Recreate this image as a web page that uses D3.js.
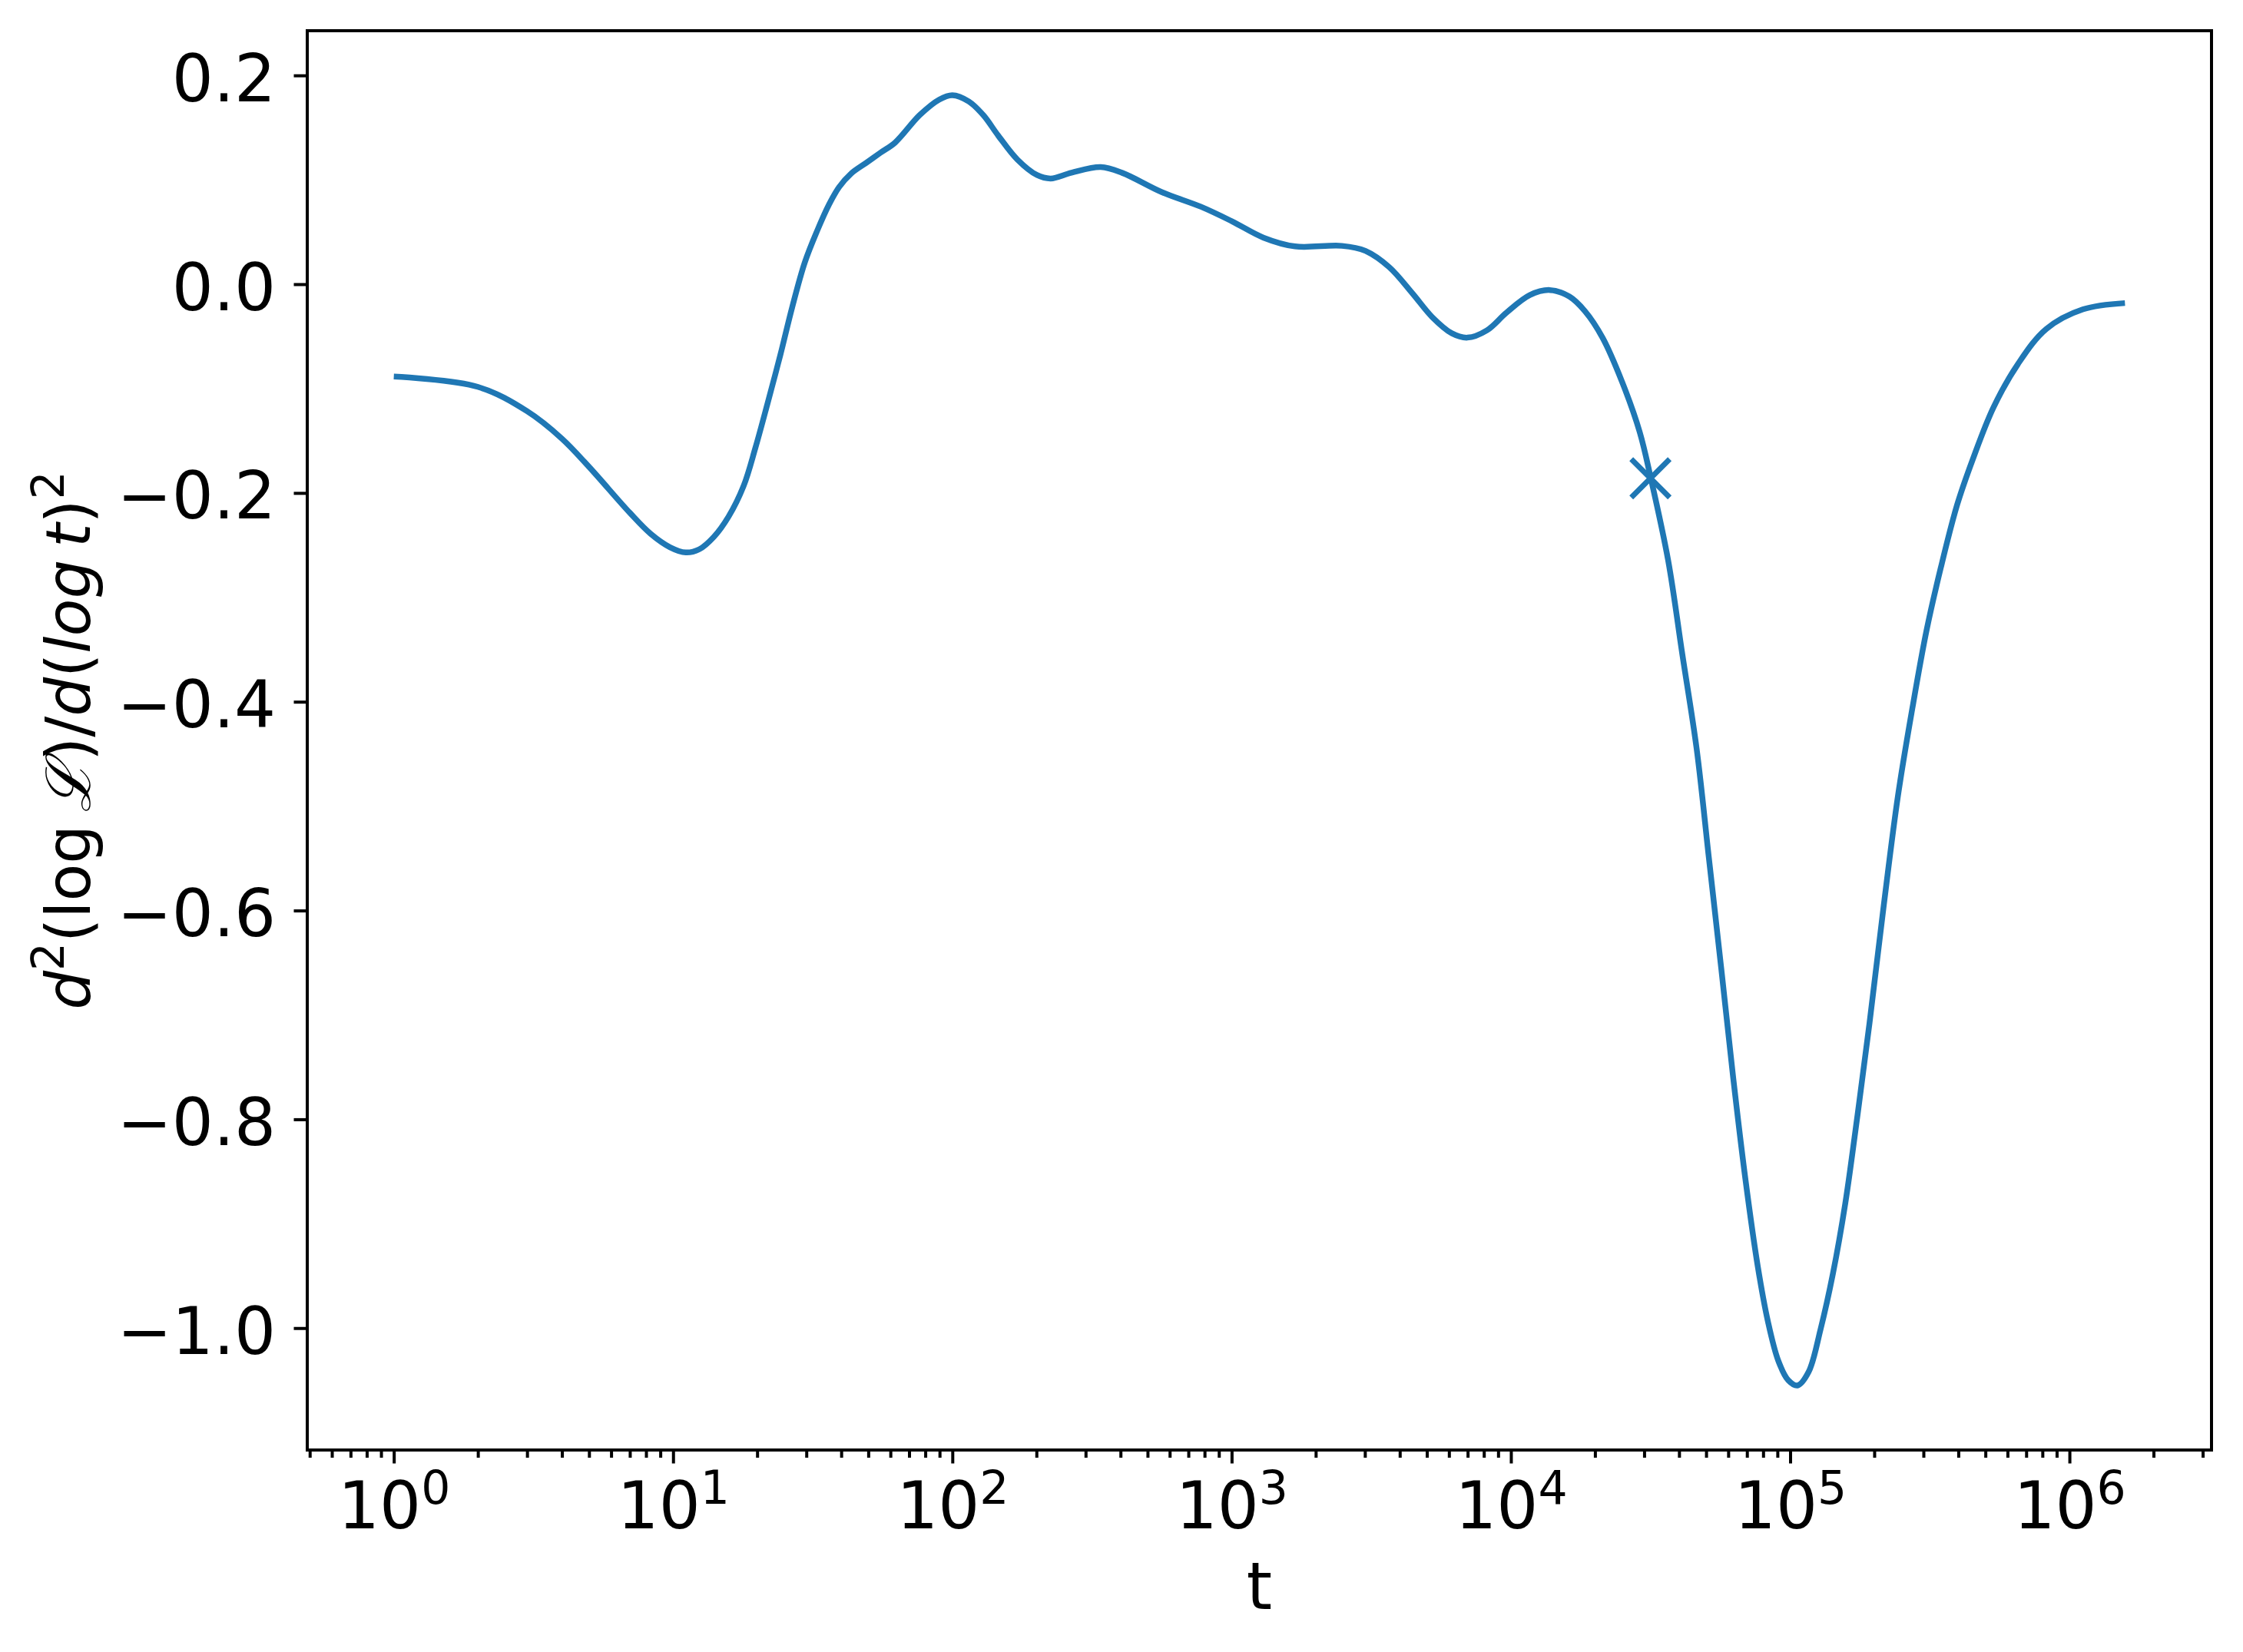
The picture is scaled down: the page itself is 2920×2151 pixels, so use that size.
<!DOCTYPE html>
<html>
<head>
<meta charset="utf-8">
<script src="https://cdn.jsdelivr.net/npm/d3@7"></script>
<style>
  body { margin: 0; background: #fff; }
  svg { display: block; }
  text { font-family: "DejaVu Sans", sans-serif; fill: #000; }
</style>
</head>
<body>
<svg id="chart"></svg>
<script>
// t values (log spaced after the first integers) and the curve values
const tValues = [1, 2, 3, 4, 5, 7, 8.3, 9.75, 11.1, 12.4, 14, 15.8, 17.9, 19.7, 21.8, 24.2, 26.7,
    29.6, 32.7, 36.2, 39.3, 43.4, 49, 55.2, 62.4, 76.4, 89.7, 100, 114.5, 129, 146, 171, 201,
    225, 267, 340, 406, 561, 776, 1005, 1300, 1687, 2483, 3013, 3664, 4446, 5224, 6138, 6982,
    8204, 9638, 11695, 13772, 16180, 18408, 21281, 25000, 28900, 31700, 36560, 41100, 46240,
    51170, 56620, 62520, 69180, 76560, 83180, 90570, 98400, 106200, 116400, 128500, 142200,
    157400, 173800, 192300, 216300, 243200, 273500, 307600, 345900, 395400, 451900, 534600,
    653100, 826000, 1117000, 1580000];
const curveValues = [-0.0885, -0.0984, -0.1217, -0.148, -0.175, -0.219, -0.239, -0.252, -0.257,
    -0.254, -0.242, -0.2226, -0.193, -0.157, -0.114, -0.068, -0.022, 0.0206, 0.0503, 0.0765,
    0.093, 0.106, 0.116, 0.1258, 0.1357, 0.162, 0.1768, 0.181, 0.175, 0.162, 0.1423, 0.1193,
    0.1045, 0.1012, 0.1068, 0.1122, 0.1066, 0.0883, 0.0742, 0.0601, 0.0446, 0.0362, 0.0367,
    0.0319, 0.0164, -0.009, -0.0315, -0.047, -0.0512, -0.0442, -0.0273, -0.0104, -0.0056,
    -0.0118, -0.0258, -0.0512, -0.0935, -0.1414, -0.186, -0.2646, -0.3547, -0.445, -0.55,
    -0.655, -0.7605, -0.858, -0.941, -0.9934, -1.031, -1.05, -1.055, -1.042, -1.001, -0.948,
    -0.881, -0.798, -0.708, -0.595, -0.49, -0.407, -0.332, -0.272, -0.212, -0.1669, -0.118,
    -0.0767, -0.0429, -0.0241, -0.0181];
const markerT = [31600];
const markerValues = [-0.186];
const yTicks = [0.2, 0.0, -0.2, -0.4, -0.6, -0.8, -1.0];
const xTickExponents = [0, 1, 2, 3, 4, 5, 6];
const xLabel = 't';

const width = 2920, height = 2151;
const margin = {left: 400, right: 41, top: 40, bottom: 263};
const blue = '#1f77b4';

const svg = d3.select('#chart')
    .attr('width', width)
    .attr('height', height);

svg.append('rect')
    .attr('width', width)
    .attr('height', height)
    .attr('fill', '#fff');

// matplotlib-like 5% margins (in log space for t)
const logExt = d3.extent(tValues).map(Math.log10);
const padX = (logExt[1] - logExt[0]) * 0.05;
const vExt = d3.extent(curveValues);
const padY = (vExt[1] - vExt[0]) * 0.05;

const x = d3.scaleLog()
    .domain([Math.pow(10, logExt[0] - padX), Math.pow(10, logExt[1] + padX)])
    .range([margin.left, width - margin.right]);
const y = d3.scaleLinear()
    .domain([vExt[0] - padY, vExt[1] + padY])
    .range([height - margin.bottom, margin.top]);

const plotBottom = height - margin.bottom;

// minor ticks
const minorTicks = [];
for (let e = -1; e <= 6; e++) {
    for (let m = 2; m <= 9; m++) {
        const v = m * Math.pow(10, e);
        if (v >= x.domain()[0] && v <= x.domain()[1]) minorTicks.push(v);
    }
}

const minorAxis = svg.append('g')
    .attr('transform', `translate(0,${plotBottom})`)
    .call(d3.axisBottom(x).tickValues(minorTicks).tickSize(10).tickSizeOuter(0).tickFormat(() => ''));

const xAxis = svg.append('g')
    .attr('transform', `translate(0,${plotBottom})`)
    .call(d3.axisBottom(x)
        .tickValues(xTickExponents.map(e => Math.pow(10, e)))
        .tickSize(17.5)
        .tickSizeOuter(0)
        .tickFormat(() => ''));

xAxis.selectAll('.tick text')
    .attr('y', 102)
    .attr('dy', null)
    .attr('font-size', 85)
    .each(function (d, i) {
        const t = d3.select(this);
        t.append('tspan').text('10');
        t.append('tspan').attr('dy', -32).attr('font-size', 60).text(xTickExponents[i]);
    });

const yAxis = svg.append('g')
    .attr('transform', `translate(${margin.left},0)`)
    .call(d3.axisLeft(y)
        .tickValues(yTicks)
        .tickSize(17.5)
        .tickSizeOuter(0)
        .tickFormat(d3.format('.1f')));

yAxis.selectAll('.tick text')
    .attr('x', -41)
    .attr('dy', null)
    .attr('y', 33)
    .attr('font-size', 85);

[xAxis, minorAxis, yAxis].forEach(g => {
    g.select('.domain').remove();
    g.attr('font-family', null).attr('font-size', null);
    g.selectAll('.tick line').attr('stroke', '#000').attr('stroke-width', 4);
});

// frame
svg.append('rect')
    .attr('x', margin.left)
    .attr('y', margin.top)
    .attr('width', width - margin.right - margin.left)
    .attr('height', plotBottom - margin.top)
    .attr('fill', 'none')
    .attr('stroke', '#000')
    .attr('stroke-width', 4);

// curve
const line = d3.line()
    .x(d => x(d[0]))
    .y(d => y(d[1]))
    .curve(d3.curveCatmullRom.alpha(0.5));

svg.append('path')
    .datum(d3.zip(tValues, curveValues))
    .attr('d', line)
    .attr('fill', 'none')
    .attr('stroke', blue)
    .attr('stroke-width', 7.5)
    .attr('stroke-linejoin', 'round');

// x marker
const s = 25;
svg.selectAll('.marker')
    .data(d3.zip(markerT, markerValues))
    .enter()
    .append('path')
    .attr('class', 'marker')
    .attr('transform', d => `translate(${x(d[0])},${y(d[1])})`)
    .attr('d', `M${-s},${-s}L${s},${s}M${-s},${s}L${s},${-s}`)
    .attr('stroke', blue)
    .attr('stroke-width', 7)
    .attr('fill', 'none');

// axis labels
svg.append('text')
    .attr('x', (margin.left + width - margin.right) / 2)
    .attr('y', 2095)
    .attr('text-anchor', 'middle')
    .attr('font-size', 85)
    .text(xLabel);

const ylab = svg.append('text')
    .attr('transform', `translate(117,${(margin.top + plotBottom) / 2}) rotate(-90)`)
    .attr('text-anchor', 'middle')
    .attr('font-size', 80);
ylab.append('tspan').attr('font-style', 'italic').text('d');
ylab.append('tspan').attr('dy', -34).attr('font-size', 58).text('2');
ylab.append('tspan').attr('dy', 34).text('(log\u2009');
ylab.append('tspan').attr('font-style', 'italic').attr('font-family', 'DejaVu Serif').text('\u2112');
ylab.append('tspan').text(')/');
ylab.append('tspan').attr('font-style', 'italic').text('d');
ylab.append('tspan').text('(');
ylab.append('tspan').attr('font-style', 'italic').text('log\u2009t');
ylab.append('tspan').text(')');
ylab.append('tspan').attr('dy', -34).attr('font-size', 58).text('2');
</script>
</body>
</html>
